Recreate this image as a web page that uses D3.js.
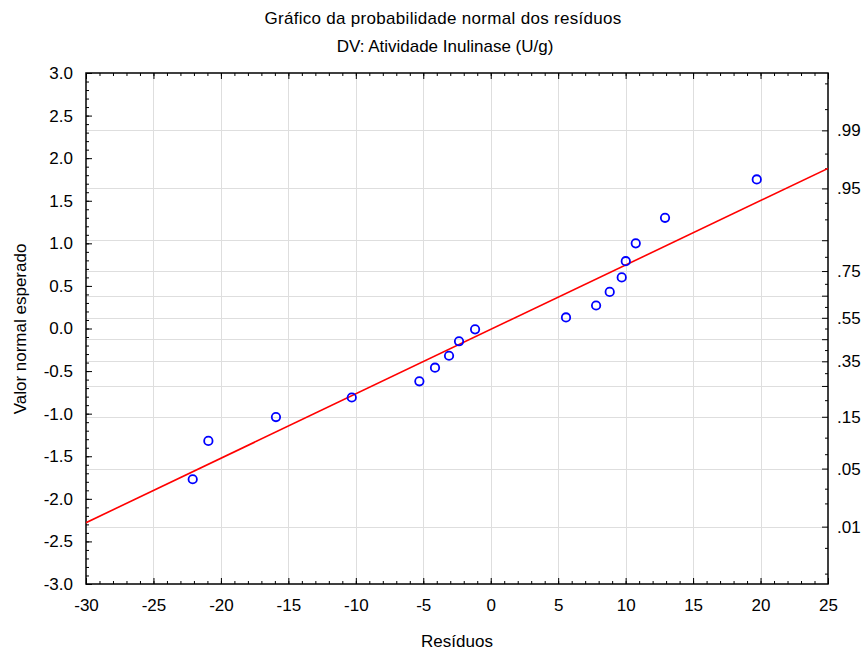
<!DOCTYPE html>
<html>
<head>
<meta charset="utf-8">
<script src="https://cdn.jsdelivr.net/npm/d3@7/dist/d3.min.js"></script>
<style>
  html, body { margin: 0; padding: 0; background: #fff; }
  svg { display: block; font-family: "Liberation Sans", Arial, sans-serif; }
  .axis path { display: none; }
  .axis line { stroke: #000; stroke-width: 1; }
  .axis text { font-size: 17px; fill: #000; font-family: "Liberation Sans", Arial, sans-serif; }
</style>
</head>
<body>
<svg id="chart" width="866" height="652"></svg>
<script>
// Residuals and their expected normal values
const residuals = [-22.09, -20.93, -15.92, -10.30, -5.29, -4.13, -3.09, -2.35, -1.16,
                   5.58, 7.81, 8.82, 9.71, 10.01, 10.75, 12.92, 19.72];
const expectedNormal = [-1.77, -1.32, -1.04, -0.81, -0.62, -0.46, -0.32, -0.15, -0.01,
                        0.13, 0.27, 0.43, 0.60, 0.79, 1.00, 1.30, 1.75];

// Reference line endpoints
const fitX = [-30, 25];
const fitZ = [-2.28, 1.88];

// Axis ticks
const xTicks = [-30, -25, -20, -15, -10, -5, 0, 5, 10, 15, 20, 25];
const yTicks = [-3.0, -2.5, -2.0, -1.5, -1.0, -0.5, 0.0, 0.5, 1.0, 1.5, 2.0, 2.5, 3.0];
const probGrid = [0.01, 0.05, 0.15, 0.25, 0.35, 0.45, 0.55, 0.65, 0.75, 0.85, 0.95, 0.99];
const probLabels = [0.01, 0.05, 0.15, 0.35, 0.55, 0.75, 0.95, 0.99];
const probMinor = [0.002, 0.005, 0.02, 0.03, 0.07, 0.1, 0.2, 0.3, 0.4, 0.5, 0.6, 0.7, 0.8, 0.9, 0.93, 0.97, 0.98, 0.995, 0.998];

const titleText = "Gráfico da probabilidade normal dos resíduos";
const subtitleText = "DV: Atividade Inulinase (U/g)";
const xLabel = "Resíduos";
const yLabel = "Valor normal esperado";

// Inverse standard normal CDF (Acklam's rational approximation)
function probit(p) {
  const a = [-3.969683028665376e+01, 2.209460984245205e+02, -2.759285104469687e+02,
             1.383577518672690e+02, -3.066479806614716e+01, 2.506628277459239e+00];
  const b = [-5.447609879822406e+01, 1.615858368580409e+02, -1.556989798598866e+02,
             6.680131188771972e+01, -1.328068155288572e+01];
  const c = [-7.784894002430293e-03, -3.223964580411365e-01, -2.400758277161838e+00,
             -2.549671500230430e+00, 4.374664141464968e+00, 2.938163982698783e+00];
  const d = [7.784695709041462e-03, 3.224671290700398e-01, 2.445134137142996e+00,
             3.754408661907416e+00];
  const pl = 0.02425, ph = 1 - pl;
  let q, r;
  if (p < pl) {
    q = Math.sqrt(-2 * Math.log(p));
    return (((((c[0]*q+c[1])*q+c[2])*q+c[3])*q+c[4])*q+c[5]) /
           ((((d[0]*q+d[1])*q+d[2])*q+d[3])*q+1);
  }
  if (p <= ph) {
    q = p - 0.5; r = q * q;
    return (((((a[0]*r+a[1])*r+a[2])*r+a[3])*r+a[4])*r+a[5])*q /
           (((((b[0]*r+b[1])*r+b[2])*r+b[3])*r+b[4])*r+1);
  }
  q = Math.sqrt(-2 * Math.log(1 - p));
  return -(((((c[0]*q+c[1])*q+c[2])*q+c[3])*q+c[4])*q+c[5]) /
          ((((d[0]*q+d[1])*q+d[2])*q+d[3])*q+1);
}

// Number formatting with a plain hyphen as the minus sign
const locale = d3.formatLocale({ decimal: ".", thousands: ",", grouping: [3], currency: ["", ""], minus: "-" });
const fmtInt = locale.format("d");
const fmtOne = locale.format(".1f");

const svg = d3.select("#chart");
const plotLeft = 86, plotRight = 828, plotTop = 73, plotBottom = 584;

const x = d3.scaleLinear().domain([-30, 25]).range([plotLeft, plotRight]);
const y = d3.scaleLinear().domain([-3, 3]).range([plotBottom, plotTop]);

// Grid
const grid = svg.append("g").attr("stroke", "#dedede").attr("stroke-width", 1);
grid.selectAll("line.v").data(xTicks.slice(1, -1)).join("line")
  .attr("x1", d => Math.round(x(d)) + 0.5).attr("x2", d => Math.round(x(d)) + 0.5)
  .attr("y1", plotTop).attr("y2", plotBottom);
grid.selectAll("line.h").data(probGrid).join("line")
  .attr("x1", plotLeft).attr("x2", plotRight)
  .attr("y1", d => Math.round(y(probit(d))) + 0.5)
  .attr("y2", d => Math.round(y(probit(d))) + 0.5);

// Minor ticks (no labels)
const xMinor = d3.range(-30, 26, 1);
const yMinor = d3.range(-30, 31, 1).map(v => v / 10);
svg.append("g").attr("class", "axis").attr("transform", `translate(0,${plotBottom})`)
  .call(d3.axisBottom(x).tickValues(xMinor).tickSize(-3).tickFormat(""));
svg.append("g").attr("class", "axis").attr("transform", `translate(0,${plotTop})`)
  .call(d3.axisTop(x).tickValues(xMinor).tickSize(-3).tickFormat(""));
svg.append("g").attr("class", "axis").attr("transform", `translate(${plotLeft},0)`)
  .call(d3.axisLeft(y).tickValues(yMinor).tickSize(-3).tickFormat(""));
svg.append("g").attr("class", "axis").attr("transform", `translate(${plotRight},0)`)
  .call(d3.axisRight(y).tickValues(probMinor.map(probit)).tickSize(-3).tickFormat(""));

// Major axes
svg.append("g").attr("class", "axis").attr("transform", `translate(0,${plotBottom})`)
  .call(d3.axisBottom(x).tickValues(xTicks).tickSize(-6).tickPadding(15).tickFormat(fmtInt));
svg.append("g").attr("class", "axis").attr("transform", `translate(0,${plotTop})`)
  .call(d3.axisTop(x).tickValues(xTicks).tickSize(-6).tickFormat(""));
svg.append("g").attr("class", "axis").attr("transform", `translate(${plotLeft},0)`)
  .call(d3.axisLeft(y).tickValues(yTicks).tickSize(-6).tickPadding(13).tickFormat(fmtOne));
const probFmt = p => d3.format(".2f")(p).replace(/^0/, "");
svg.append("g").attr("class", "axis").attr("transform", `translate(${plotRight},0)`)
  .call(d3.axisRight(y).tickValues(probGrid.map(probit)).tickSize(-6).tickPadding(9)
    .tickFormat((z, i) => probLabels.includes(probGrid[i]) ? probFmt(probGrid[i]) : ""));

// Frame
svg.append("rect")
  .attr("x", plotLeft).attr("y", plotTop)
  .attr("width", plotRight - plotLeft).attr("height", plotBottom - plotTop)
  .attr("fill", "none").attr("stroke", "#000").attr("stroke-width", 1.5);

// Clip for plot contents
svg.append("clipPath").attr("id", "plotClip")
  .append("rect").attr("x", plotLeft).attr("y", plotTop)
  .attr("width", plotRight - plotLeft).attr("height", plotBottom - plotTop);

const plot = svg.append("g").attr("clip-path", "url(#plotClip)");

// Reference line
plot.append("path")
  .datum(fitX.map((v, i) => [v, fitZ[i]]))
  .attr("d", d3.line().x(d => x(d[0])).y(d => y(d[1])))
  .attr("stroke", "#ff0000").attr("stroke-width", 1.6).attr("fill", "none");

// Points
plot.selectAll("circle").data(residuals.map((r, i) => [r, expectedNormal[i]])).join("circle")
  .attr("cx", d => x(d[0])).attr("cy", d => y(d[1])).attr("r", 4.2)
  .attr("fill", "none").attr("stroke", "#0000ff").attr("stroke-width", 1.8);

// Titles and axis labels
svg.append("text").attr("x", 443).attr("y", 24).attr("text-anchor", "middle")
  .attr("font-size", 17).attr("letter-spacing", 0.3).text(titleText);
svg.append("text").attr("x", 445).attr("y", 52).attr("text-anchor", "middle")
  .attr("font-size", 17).text(subtitleText);
svg.append("text").attr("x", 457).attr("y", 647).attr("text-anchor", "middle")
  .attr("font-size", 17).text(xLabel);
svg.append("text").attr("transform", "translate(26,329) rotate(-90)")
  .attr("text-anchor", "middle").attr("font-size", 17).text(yLabel);
</script>
</body>
</html>
